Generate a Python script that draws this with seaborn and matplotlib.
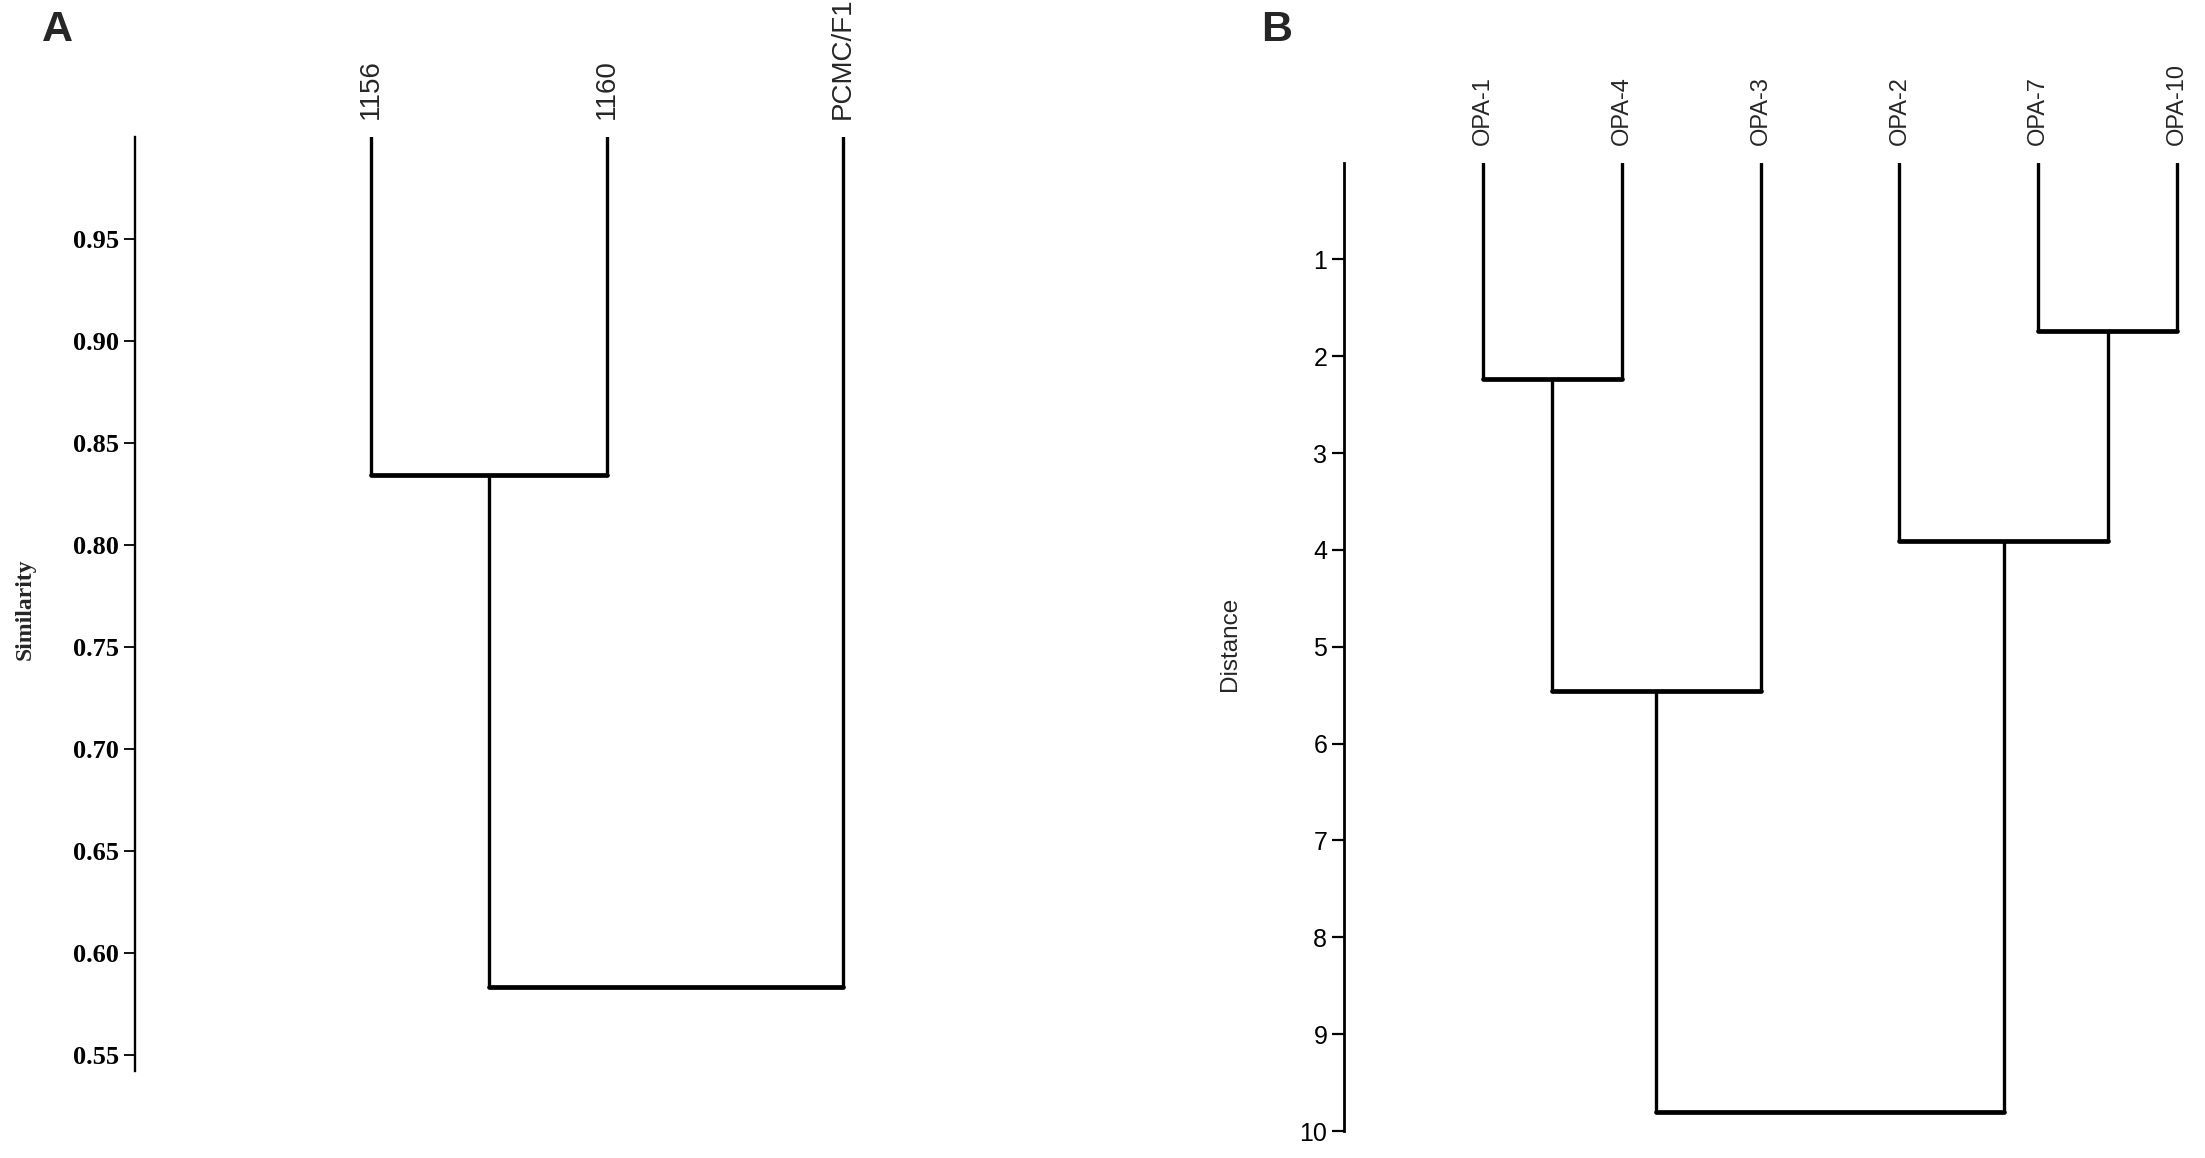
import pandas as pd
import matplotlib
matplotlib.use("Agg")
import matplotlib.pyplot as plt
from matplotlib import font_manager
import seaborn as sns

# Panel A: similarity dendrogram
leaves_a = ["1156", "1160", "PCMC/F1"]
merge_left_a = [0, 3]
merge_right_a = [1, 2]
merge_height_a = [0.834, 0.583]
leaf_base_a = 1.0
yticks_a = [0.55, 0.60, 0.65, 0.70, 0.75, 0.80, 0.85, 0.90, 0.95]

# Panel B: distance dendrogram
leaves_b = ["OPA-1", "OPA-4", "OPA-3", "OPA-2", "OPA-7", "OPA-10"]
merge_left_b = [4, 0, 3, 7, 9]
merge_right_b = [5, 1, 6, 2, 8]
merge_height_b = [1.74, 2.23, 3.91, 5.46, 9.80]
leaf_base_b = 0.0
yticks_b = [1, 2, 3, 4, 5, 6, 7, 8, 9, 10]


def tree_segments(n_leaves, left, right, heights, base):
    # linkage-style merges -> vertical and horizontal segments
    xpos = {i: float(i) for i in range(n_leaves)}
    ypos = {i: base for i in range(n_leaves)}
    rows_v, rows_h = [], []
    for k, (l, r, h) in enumerate(zip(left, right, heights)):
        node = n_leaves + k
        for child in (l, r):
            seg = f"{node}-{child}"
            rows_v.append((seg, xpos[child], ypos[child]))
            rows_v.append((seg, xpos[child], h))
        rows_h.append((str(node), xpos[l], h))
        rows_h.append((str(node), xpos[r], h))
        xpos[node] = (xpos[l] + xpos[r]) / 2
        ypos[node] = h
    cols = ["seg", "x", "y"]
    return pd.DataFrame(rows_v, columns=cols), pd.DataFrame(rows_h, columns=cols)


sns.set_theme(style="white")
plt.rcParams["font.family"] = ["Liberation Sans", "DejaVu Sans"]

installed = {f.name for f in font_manager.fontManager.ttflist}
narrow = "Liberation Sans Narrow" if "Liberation Sans Narrow" in installed else "Liberation Sans"

fig = plt.figure(figsize=(22.05, 11.58), dpi=100)
ax_a = fig.add_axes([0.0612, 0.0751, 0.3533, 0.8066])
ax_b = fig.add_axes([0.6095, 0.0233, 0.3842, 0.8363])

panels = [
    (ax_a, leaves_a, merge_left_a, merge_right_a, merge_height_a, leaf_base_a),
    (ax_b, leaves_b, merge_left_b, merge_right_b, merge_height_b, leaf_base_b),
]

for ax, leaves, left, right, heights, base in panels:
    vert, horiz = tree_segments(len(leaves), left, right, heights, base)
    sns.lineplot(data=vert, x="x", y="y", units="seg", estimator=None,
                 sort=False, color="black", lw=2.4, ax=ax)
    sns.lineplot(data=horiz, x="x", y="y", units="seg", estimator=None,
                 sort=False, color="black", lw=3.4, ax=ax)
    for side in ["top", "right", "bottom"]:
        ax.spines[side].set_visible(False)
    ax.spines["left"].set_color("black")
    ax.xaxis.tick_top()
    ax.set_xlabel("")

# Panel A axes
ax_a.set_xlim(-1, 2.3)
ax_a.set_ylim(0.5419, 1.0)
ax_a.spines["left"].set_linewidth(1.7)
ax_a.set_xticks(range(len(leaves_a)), leaves_a, rotation=90,
                fontsize=20, family="Liberation Sans")
ax_a.tick_params(axis="x", length=0, pad=13)
ax_a.set_yticks(yticks_a, [f"{v:.2f}" for v in yticks_a],
                fontsize=19, family="Liberation Serif", fontweight="bold")
ax_a.tick_params(axis="y", left=True, direction="out", length=8,
                 width=1.3, pad=3.5, colors="black")
ax_a.set_ylabel("Similarity", fontsize=17, family="Liberation Serif",
                fontweight="bold", va="center")
ax_a.yaxis.set_label_coords(-0.1412, 0.4946)

# Panel B axes
ax_b.set_xlim(-1, 5.1)
ax_b.set_ylim(10, 0)
ax_b.spines["left"].set_linewidth(2.0)
ax_b.set_xticks(range(len(leaves_b)), leaves_b, rotation=90,
                fontsize=17, family="Liberation Sans")
ax_b.tick_params(axis="x", length=0, pad=13)
ax_b.set_yticks(yticks_b, [str(v) for v in yticks_b], fontsize=18, family=narrow)
ax_b.tick_params(axis="y", left=True, direction="out", length=8.5,
                 width=1.6, pad=3.5, colors="black")
ax_b.set_ylabel("Distance", fontsize=17.5, family="Liberation Sans", va="center")
ax_b.yaxis.set_label_coords(-0.1346, 0.503)

fig.text(0.0259, 0.974, "A", fontsize=31, fontweight="bold",
         ha="center", va="center")
fig.text(0.579, 0.974, "B", fontsize=31, fontweight="bold",
         ha="center", va="center")

fig.savefig("out.png", dpi=100, facecolor="white")
